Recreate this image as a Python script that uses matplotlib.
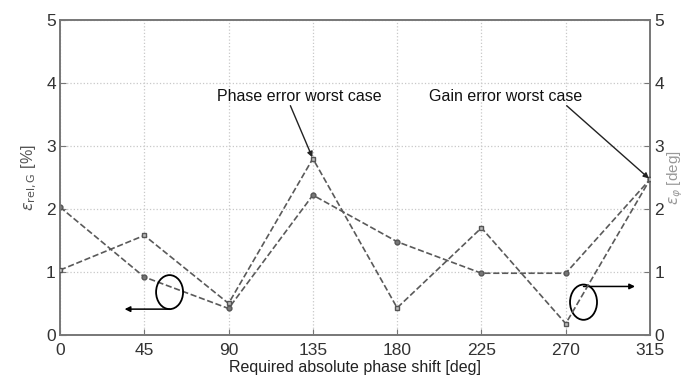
import matplotlib
matplotlib.use("Agg")
import matplotlib.pyplot as plt
from matplotlib.patches import Ellipse

plt.rcParams['font.family'] = ['Liberation Sans', 'DejaVu Sans']

phase_shift = [0, 45, 90, 135, 180, 225, 270, 315]
gain_err = [2.03, 0.92, 0.42, 2.22, 1.48, 0.98, 0.98, 2.47]
phase_err = [1.03, 1.58, 0.50, 2.80, 0.43, 1.70, 0.18, 2.47]
y_ticks = [0, 1, 2, 3, 4, 5]

fig = plt.figure(figsize=(6.88, 3.85), dpi=100)
ax = fig.add_axes([0.0872, 0.130, 0.8576, 0.818])
ax2 = ax.twinx()

line_col = '#5a5a5a'
spine_col = '#777777'

ax.plot(phase_shift, gain_err, ls='--', color=line_col, lw=1.2, marker='o',
        ms=3.5, mfc='#777777', mec='#555555', zorder=3)
ax2.plot(phase_shift, phase_err, ls='--', color=line_col, lw=1.2, marker='s',
         ms=3.5, mfc='#bbbbbb', mec='#555555', zorder=3)

for a in (ax, ax2):
    a.set_xlim(0, 315)
    a.set_ylim(0, 5)
    a.set_yticks(y_ticks)
    for s in a.spines.values():
        s.set_color(spine_col)
        s.set_linewidth(1.2)
    a.tick_params(direction='in', colors=spine_col, labelcolor='#333333',
                  labelsize=12.5, length=4)
    a.tick_params(axis='y', pad=3)
    a.tick_params(axis='x', pad=6)

ax.set_xticks(phase_shift)
ax.grid(True, ls=':', color='#c8c8c8', lw=0.9)
ax.set_xlabel('Required absolute phase shift [deg]', fontsize=11.5,
              color='#222222', labelpad=1)
ax.set_ylabel(r'$\varepsilon_{\mathrm{rel,G}}$ [%]', fontsize=11.5,
              color='#555555', labelpad=5)
ax2.set_ylabel(r'$\varepsilon_{\varphi}$ [deg]', fontsize=11,
               color='#999999', labelpad=1)

# ellipses with arrows indicating the axis
ax.add_patch(Ellipse((58.5, 0.68), 14.4, 0.54, fill=False, ec='black',
                     lw=1.3, zorder=5))
ax.annotate('', xy=(34.5, 0.41), xytext=(58.5, 0.41),
            arrowprops=dict(arrowstyle='-|>', color='black', lw=1.1,
                            mutation_scale=8, shrinkA=0, shrinkB=0))
ax.add_patch(Ellipse((279.5, 0.52), 14.4, 0.56, fill=False, ec='black',
                     lw=1.3, zorder=5))
ax.annotate('', xy=(307, 0.77), xytext=(279.5, 0.77),
            arrowprops=dict(arrowstyle='-|>', color='black', lw=1.1,
                            mutation_scale=8, shrinkA=0, shrinkB=0))

# worst case annotations
ax2.text(128, 3.79, 'Phase error worst case', ha='center', va='center',
         fontsize=11.5, color='#111111')
ax2.annotate('', xy=(135, phase_err[3]), xytext=(123, 3.64),
             arrowprops=dict(arrowstyle='-|>', color='#222222', lw=1.0,
                             mutation_scale=8, shrinkA=0, shrinkB=1))
ax2.text(238, 3.79, 'Gain error worst case', ha='center', va='center',
         fontsize=11.5, color='#111111')
ax2.annotate('', xy=(315, gain_err[7]), xytext=(270.5, 3.64),
             arrowprops=dict(arrowstyle='-|>', color='#222222', lw=1.0,
                             mutation_scale=8, shrinkA=0, shrinkB=1))

fig.savefig('out.png', dpi=100)
